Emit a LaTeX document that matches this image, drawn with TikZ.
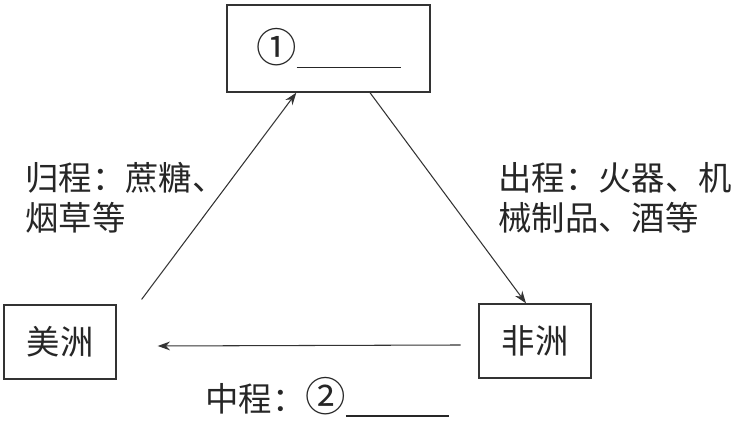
\documentclass[tikz,border=0pt]{standalone}
\usepackage{fontspec}
\newfontfamily\cjk{Noto Sans CJK SC}
\usetikzlibrary{arrows.meta}
\definecolor{lineC}{rgb}{0.2,0.2,0.2}
\newcommand{\bignum}[1]{{\fontsize{23}{23}\selectfont #1}}

\begin{document}
\begin{tikzpicture}[>={Stealth[length=7pt,width=5pt]}, line cap=round,
  box/.style={draw=lineC, line width=0.8pt, inner sep=0pt, minimum width=2.24cm, minimum height=1.48cm,
    font=\cjk\fontsize{19}{22.8}\selectfont, text=black!85},
  lab/.style={font=\cjk\fontsize{19}{22.8}\selectfont, align=left, inner sep=0pt, text=black!85},
  route/.style={draw=lineC, line width=0.6pt}]
\useasboundingbox (0,0) rectangle (14.84,8.44);
% 三个地区
\node[box, minimum width=4.06cm, minimum height=1.74cm] (eu) at (6.57,7.47) {\bignum{①}\rule[-3pt]{2.08cm}{0.8pt}\hspace{0.2cm}};
\node[box] (am) at (1.20,1.60) {美洲};
\node[box] (af) at (10.70,1.62) {非洲};
% 三角航线
\draw[route,->] ([shift={(0.5,0.1)}]am.north east) -- ([xshift=1.4cm]eu.south west);
\draw[route,->] ([xshift=0.83cm]eu.south) -- ([xshift=-0.18cm]af.north);
\draw[route,->] ([shift={(-0.36,-0.08)}]af.west) -- ([shift={(0.82,-0.08)}]am.east);
% 航程说明
\node[lab, anchor=west] (back) at (0.5,4.48) {归程：蔗糖、\\烟草等};
\node[lab, anchor=west] (out) at (9.96,4.48) {出程：火器、机\\械制品、酒等};
\node[lab, anchor=west] (mid) at (4.10,0.50) {中程：\bignum{②}\rule[-3pt]{2.06cm}{0.8pt}};
\end{tikzpicture}
\end{document}
